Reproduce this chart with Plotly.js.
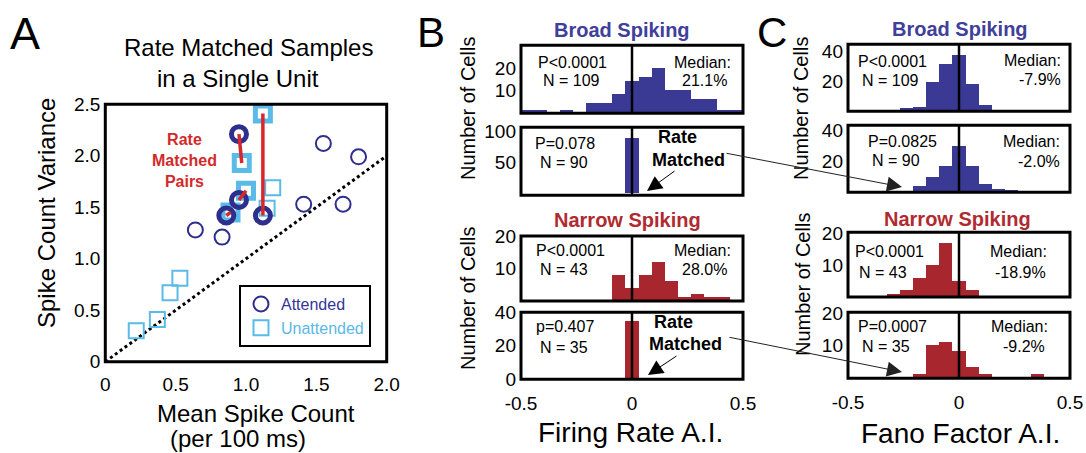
<!DOCTYPE html>
<html>
<head>
<meta charset="utf-8">
<script src="https://cdn.plot.ly/plotly-3.0.1.min.js"></script>
<style>html,body{margin:0;padding:0;background:#fff;}#chart{width:1086px;height:453px;}</style>
</head>
<body>
<div id="chart"></div>
<script>
// ---------- Panel A data ----------
const attendedX = [0.64, 0.83, 1.41, 1.55, 1.80, 1.69];
const attendedY = [1.28, 1.21, 1.53, 2.12, 1.99, 1.53];
const attendedPairX = [0.95, 1.12, 0.95, 0.86];
const attendedPairY = [2.21, 1.42, 1.57, 1.42];
const unattendedX = [0.22, 0.37, 0.46, 0.53, 1.19, 1.15];
const unattendedY = [0.30, 0.41, 0.67, 0.81, 1.69, 1.49];
const unattendedPairX = [0.97, 1.12, 1.00, 0.89];
const unattendedPairY = [1.93, 2.41, 1.66, 1.45];
const aXTicks = [0, 0.5, 1, 1.5, 2];
const aXTickText = ['0', '0.5', '1.0', '1.5', '2.0'];
const aYTicks = [0, 0.5, 1, 1.5, 2, 2.5];
const aYTickText = ['0', '0.5', '1.0', '1.5', '2.0', '2.5'];

// ---------- Histogram data (17 bins over -0.5..0.5) ----------
const binCenters = [-0.471,-0.412,-0.353,-0.294,-0.235,-0.176,-0.118,-0.059,0,0.059,0.118,0.176,0.235,0.294,0.353,0.412,0.471];
const binWidth = 0.0588;
const broadFR         = [1,1,0,1,0,4,4,8,14,16,20,10,10,6,6,1,1];
const broadFRMatched  = [0,0,0,0,0,0,0,0,90,0,0,0,0,0,0,0,0];
const narrowFR        = [0,0,0,0,0,0,0,8,4,8,12,6,1,2,1,1,0];
const narrowFRMatched = [0,0,0,0,0,0,0,0,35,0,0,0,0,0,0,0,0];
const broadFF         = [0,0,0,0,2,3,19,31,37,18,4,0,0,0,0,0,0];
const broadFFMatched  = [0,0,0,0,0,4,10,17,30,17,5,2,1,0,0,0,0];
const narrowFF        = [0,0,0,1,2,6,10,17,5,2,0,0,0,0,0,0,0];
const narrowFFMatched = [0,0,0,0,0,1,10,11,8,3,1,0,0,0,1,0,0];
const histXTicks = [-0.5, 0, 0.5];
const histXTickText = ['-0.5', '0', '0.5'];

// ---------- helpers ----------
const W = 1086, H = 453;
const px = x => x / W;
const py = y => 1 - y / H;
const FONT = 'Liberation Sans, Arial, sans-serif';
const BLUE = '#3a3a94', RED = '#a8262d';
const CIRC = '#2e2e8c', SQR = '#5bbbe8', PAIR = '#d8262b';

const traces = [];
// Panel A markers
traces.push({x: unattendedX, y: unattendedY, type: 'scatter', mode: 'markers', name: '<span style="color:#5ab8e6">Unattended</span>',
  marker: {symbol: 'square-open', size: 15, color: SQR, line: {width: 2, color: SQR}}, xaxis: 'x', yaxis: 'y', legendrank: 2});
traces.push({x: attendedX, y: attendedY, type: 'scatter', mode: 'markers', name: '<span style="color:#333399">Attended</span>',
  marker: {symbol: 'circle-open', size: 15, color: CIRC, line: {width: 2, color: CIRC}}, xaxis: 'x', yaxis: 'y', legendrank: 1});
traces.push({x: unattendedPairX, y: unattendedPairY, type: 'scatter', mode: 'markers', showlegend: false,
  marker: {symbol: 'square-open', size: 15, color: SQR, line: {width: 5, color: SQR}}, xaxis: 'x', yaxis: 'y'});
traces.push({x: attendedPairX, y: attendedPairY, type: 'scatter', mode: 'markers', showlegend: false,
  marker: {symbol: 'circle-open', size: 15, color: CIRC, line: {width: 5, color: CIRC}}, xaxis: 'x', yaxis: 'y'});
// pair connecting lines
const lx = [], ly = [];
for (let i = 0; i < attendedPairX.length; i++) {
  lx.push(attendedPairX[i], unattendedPairX[i], null);
  ly.push(attendedPairY[i], unattendedPairY[i], null);
}
traces.push({x: lx, y: ly, type: 'scatter', mode: 'lines', showlegend: false, line: {color: PAIR, width: 3.5}, xaxis: 'x', yaxis: 'y'});

// Histograms
const hists = [
  {d: broadFR, c: BLUE}, {d: broadFRMatched, c: BLUE}, {d: narrowFR, c: RED}, {d: narrowFRMatched, c: RED},
  {d: broadFF, c: BLUE}, {d: broadFFMatched, c: BLUE}, {d: narrowFF, c: RED}, {d: narrowFFMatched, c: RED}
];
hists.forEach((h, i) => {
  const n = i + 2;
  traces.push({x: binCenters, y: h.d, type: 'bar', width: binWidth, showlegend: false,
    marker: {color: h.c, line: {width: 0}}, xaxis: 'x' + n, yaxis: 'y' + n});
});

const layout = {
  width: W, height: H,
  margin: {l: 0, r: 0, t: 0, b: 0},
  paper_bgcolor: '#fff', plot_bgcolor: 'rgba(0,0,0,0)',
  font: {family: FONT, color: '#000', size: 16},
  showlegend: true,
  legend: {x: px(239), y: py(285), xanchor: 'left', yanchor: 'top', bordercolor: '#000', borderwidth: 2,
    bgcolor: '#fff', font: {family: FONT, size: 16}, itemwidth: 30, tracegroupgap: 0},
  bargap: 0,
  xaxis: {domain: [px(105.3), px(386.7)], range: [0, 2], anchor: 'y', showgrid: false, zeroline: false, showline: false,
    tickvals: aXTicks, ticktext: aXTickText, tickfont: {size: 19}, ticks: '', ticklabelstandoff: 9},
  yaxis: {domain: [py(361.7), py(104.3)], range: [0, 2.5], anchor: 'x', showgrid: false, zeroline: false, showline: false,
    tickvals: aYTicks, ticktext: aYTickText, tickfont: {size: 19}, ticks: '', ticklabelstandoff: 4},
  shapes: [], annotations: []
};

// Histogram axis definitions
const BX = [521, 743], CX = [848, 1070];
const boxes = [
  {x: BX, y: [45.3, 113.3], r: [-0.74, 30.6], tv: [10, 20]},
  {x: BX, y: [127.3, 195.3], r: [-3.0, 107.3], tv: [50, 100]},
  {x: BX, y: [236, 301], r: [-0.12, 20.0], tv: [10, 20]},
  {x: BX, y: [312.3, 379.3], r: [0, 40], tv: [0, 20, 40], bottom: true},
  {x: CX, y: [44.2, 111.3], r: [-0.2, 44.5], tv: [20, 40]},
  {x: CX, y: [125.3, 192.3], r: [-0.2, 43.6], tv: [20, 40]},
  {x: CX, y: [232.2, 297], r: [-0.1, 20.4], tv: [10, 20]},
  {x: CX, y: [312.2, 378.3], r: [-0.5, 20.4], tv: [10, 20], bottom: true}
];
boxes.forEach((b, i) => {
  const n = i + 2;
  layout['xaxis' + n] = {domain: [px(b.x[0]), px(b.x[1])], range: [-0.5, 0.5], anchor: 'y' + n, showgrid: false,
    zeroline: false, showline: false, ticks: '', showticklabels: !!b.bottom, tickvals: histXTicks, ticktext: histXTickText,
    tickfont: {size: 19}, ticklabelstandoff: 11};
  layout['yaxis' + n] = {domain: [py(b.y[1]), py(b.y[0])], range: b.r, anchor: 'x' + n, showgrid: false,
    zeroline: false, showline: false, ticks: '', tickvals: b.tv, tickfont: {size: 19}, ticklabelstandoff: 4};
  // zero line
  layout.shapes.push({type: 'line', xref: 'x' + n, yref: 'y' + n + ' domain', x0: 0, x1: 0, y0: 0, y1: 1,
    line: {color: '#000', width: 2.5}, layer: 'above'});
  // box
  layout.shapes.push({type: 'rect', xref: 'x' + n + ' domain', yref: 'y' + n + ' domain', x0: 0, x1: 1, y0: 0, y1: 1,
    line: {color: '#000', width: 3}, layer: 'above'});
});

// Panel A box + diagonal
layout.shapes.push({type: 'rect', xref: 'x domain', yref: 'y domain', x0: 0, x1: 1, y0: 0, y1: 1,
  line: {color: '#000', width: 3}, layer: 'above'});
layout.shapes.push({type: 'line', xref: 'x', yref: 'y', x0: 0, y0: 0, x1: 2, y1: 2,
  line: {color: '#000', width: 3, dash: '3px,3px'}, layer: 'below'});

function ann(text, x, y, size, opts) {
  layout.annotations.push(Object.assign({text: text, x: px(x), y: py(y), xref: 'paper', yref: 'paper',
    xanchor: 'center', yanchor: 'middle', showarrow: false, font: {family: FONT, size: size, color: '#000'}}, opts || {}));
}
// Panel letters
ann('A', 25, 33, 45);
ann('B', 431, 32, 42);
ann('C', 772, 32, 42);
// Panel A texts
ann('Rate Matched Samples', 248, 48, 24);
ann('in a Single Unit', 238, 78, 24);
ann('Spike Count Variance', 47, 213, 24, {textangle: -90});
ann('Mean Spike Count', 256, 413, 24);
ann('(per 100 ms)', 238, 438, 24);
ann('<b>Rate<br>Matched<br>Pairs</b>', 184, 160, 16, {font: {family: FONT, size: 16, color: '#d22a2a'}});
// Panel titles
ann('<b>Broad Spiking</b>', 622, 30, 20, {font: {family: FONT, size: 20, color: '#40409a'}});
ann('<b>Broad Spiking</b>', 960, 29, 20, {font: {family: FONT, size: 20, color: '#40409a'}});
ann('<b>Narrow Spiking</b>', 627, 220, 20, {font: {family: FONT, size: 20, color: '#b02a30'}});
ann('<b>Narrow Spiking</b>', 957, 219, 20, {font: {family: FONT, size: 20, color: '#b02a30'}});
// Number of Cells
ann('Number of Cells', 468, 109, 20, {textangle: -90});
ann('Number of Cells', 468, 299, 20, {textangle: -90});
ann('Number of Cells', 801, 109, 20, {textangle: -90});
ann('Number of Cells', 803, 285, 20, {textangle: -90});
// Axis titles
ann('Firing Rate A.I.', 630, 432, 28);
ann('Fano Factor A.I.', 960, 433, 28);
// Histogram stats
ann('P<0.0001', 572, 62, 16); ann('N = 109', 571, 80, 16); ann('Median:', 702, 62, 16); ann('21.1%', 704, 80, 16);
ann('P=0.078', 565, 143, 16); ann('N = 90', 564, 162, 16);
ann('<b>Rate</b>', 677, 137, 18); ann('<b>Matched</b>', 688, 160, 18);
ann('P<0.0001', 570, 250, 16); ann('N = 43', 564, 269, 16); ann('Median:', 702, 250, 16); ann('28.0%', 704, 269, 16);
ann('p=0.407', 565, 326, 16); ann('N = 35', 564, 347, 16);
ann('<b>Rate</b>', 673, 322, 18); ann('<b>Matched</b>', 685, 344, 18);
ann('P<0.0001', 892, 61, 16); ann('N = 109', 890, 80, 16); ann('Median:', 1032, 60, 16); ann('-7.9%', 1040, 79, 16);
ann('P=0.0825', 902, 141, 16); ann('N = 90', 896, 160, 16); ann('Median:', 1031, 141, 16); ann('-2.0%', 1039, 161, 16);
ann('P<0.0001', 889, 252, 16); ann('N = 43', 883, 272, 16); ann('Median:', 1018, 252, 16); ann('-18.9%', 1020, 272, 16);
ann('P=0.0007', 892, 326, 16); ann('N = 35', 886, 346, 16); ann('Median:', 1019, 326, 16); ann('-9.2%', 1024, 346, 16);
// Arrows
function arrow(hx, hy, tx, ty, color, w) {
  layout.annotations.push({text: '', x: px(hx), y: py(hy), xref: 'paper', yref: 'paper', showarrow: true,
    ax: tx - hx, ay: ty - hy, axref: 'pixel', ayref: 'pixel', arrowhead: 2, arrowsize: 3 / w, arrowwidth: w, arrowcolor: color,
    standoff: 0, startstandoff: 0});
}
arrow(647, 191, 676, 170, '#000', 1);
arrow(648, 375, 678, 355, '#000', 1);
arrow(902, 187, 725, 153, '#222', 1);
arrow(902, 372, 728, 337, '#222', 1);

Plotly.newPlot('chart', traces, layout, {staticPlot: true, displayModeBar: false});
</script>
</body>
</html>
